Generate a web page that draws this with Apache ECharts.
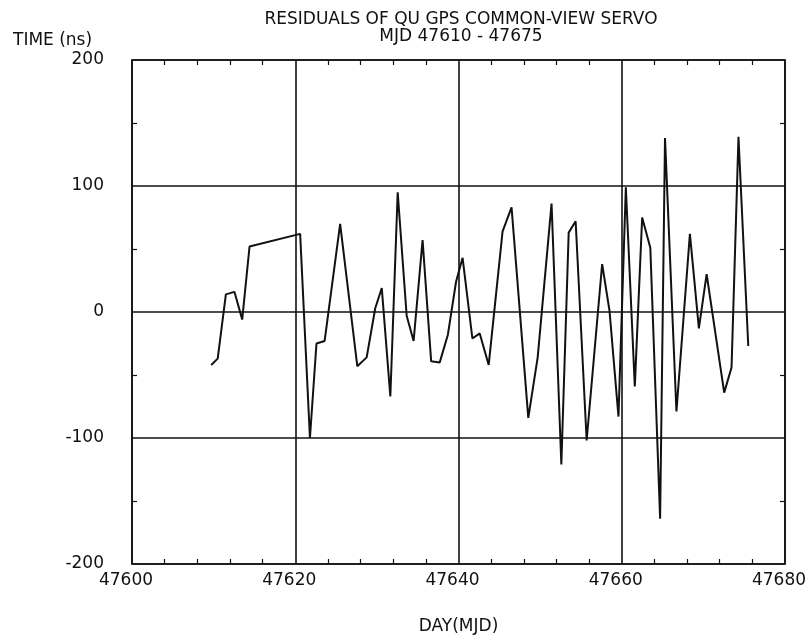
<!DOCTYPE html>
<html>
<head>
<meta charset="utf-8">
<script src="https://cdn.jsdelivr.net/npm/echarts@6/dist/echarts.min.js"></script>
<style>
  html, body { margin: 0; padding: 0; background: #fff; }
  #chart { width: 812px; height: 640px; }
</style>
</head>
<body>
<div id="chart"></div>
<script>
// MJD of each residual sample
const days = [
  47609.7, 47610.5, 47611.5, 47612.55, 47613.5, 47614.4, 47620.6, 47621.8,
  47622.6, 47623.6, 47625.5, 47627.6, 47628.75, 47629.8, 47630.6, 47631.65,
  47632.55, 47633.65, 47634.5, 47635.6, 47636.65, 47637.7, 47638.7, 47639.7,
  47640.5, 47641.7, 47642.6, 47643.7, 47645.4, 47646.5, 47648.55, 47649.7,
  47651.4, 47652.6, 47653.5, 47654.35, 47655.7, 47657.0, 47657.6, 47658.5,
  47659.6, 47660.5, 47661.6, 47662.5, 47663.5, 47664.7, 47665.3, 47666.7,
  47668.35, 47669.45, 47670.4, 47672.55, 47673.45, 47674.3, 47675.5
]
// residuals in ns
const residuals = [
  -42, -37, 14, 16, -6, 52, 62, -100,
  -25, -23, 70, -43, -36, 3, 19, -67,
  95, -3, -23, 57, -39, -40, -18, 24,
  43, -21, -17, -42, 64, 83, -84, -36,
  86, -121, 63, 72, -102, -6, 38, 1,
  -83, 99, -59, 75, 51, -164, 138, -79,
  62, -13, 30, -64, -44, 139, -27
]
const xTicks = { min: 47600, max: 47680, step: 20 }
const yTicks = { min: -200, max: 200, step: 100 }

const font = 'DejaVu Sans'
const ink = '#111'

const chart = echarts.init(document.getElementById('chart'))

// bare frame axes on top / right, only the small inward ticks
const frameAxis = {
  axisLine: { show: true, onZero: false, lineStyle: { color: ink, width: 1.6 } },
  axisTick: { show: false, inside: true },
  minorTick: { show: true, length: 5, lineStyle: { color: ink, width: 1.2 } },
  axisLabel: { show: false },
  splitLine: { show: false }
}

const option = {
  animation: false,
  backgroundColor: '#fff',
  title: [
    {
      text: 'RESIDUALS OF QU GPS COMMON-VIEW SERVO\nMJD 47610 - 47675',
      left: 456, top: 6, textAlign: 'center',
      textStyle: { fontFamily: font, fontSize: 17, fontWeight: 'normal', color: ink, lineHeight: 17 }
    },
    {
      text: 'TIME (ns)',
      left: 8, top: 27,
      textStyle: { fontFamily: font, fontSize: 17, fontWeight: 'normal', color: ink }
    }
  ],
  grid: { left: 132, right: 27, top: 60, bottom: 76 },
  xAxis: [
    {
      type: 'value',
      min: xTicks.min, max: xTicks.max, interval: xTicks.step,
      name: 'DAY(MJD)', nameLocation: 'middle', nameGap: 54,
      nameTextStyle: { fontFamily: font, fontSize: 17, color: ink },
      axisLine: { show: true, onZero: false, lineStyle: { color: ink, width: 1.6 } },
      axisTick: { show: false, inside: true },
      minorTick: { show: true, splitNumber: 5, length: 5, lineStyle: { color: ink, width: 1.2 } },
      axisLabel: {
        fontFamily: font, fontSize: 17, color: ink, margin: 8,
        padding: [0, 12, 0, 0], formatter: v => String(v)
      },
      splitLine: { show: true, lineStyle: { color: ink, width: 1.6 } }
    },
    Object.assign({}, frameAxis, {
      type: 'value', position: 'top',
      min: xTicks.min, max: xTicks.max, interval: xTicks.step,
      minorTick: Object.assign({}, frameAxis.minorTick, { splitNumber: 5 })
    })
  ],
  yAxis: [
    {
      type: 'value',
      min: yTicks.min, max: yTicks.max, interval: yTicks.step,
      axisLine: { show: true, onZero: false, lineStyle: { color: ink, width: 1.6 } },
      axisTick: { show: false, inside: true },
      minorTick: { show: true, splitNumber: 2, length: 5, lineStyle: { color: ink, width: 1.2 } },
      axisLabel: { fontFamily: font, fontSize: 17, color: ink, margin: 28 },
      splitLine: { show: true, lineStyle: { color: ink, width: 1.6 } }
    },
    Object.assign({}, frameAxis, {
      type: 'value', position: 'right',
      min: yTicks.min, max: yTicks.max, interval: yTicks.step,
      minorTick: Object.assign({}, frameAxis.minorTick, { splitNumber: 2 })
    })
  ],
  series: [
    {
      type: 'line',
      data: days.map((d, i) => [d, residuals[i]]),
      showSymbol: false,
      lineStyle: { color: ink, width: 2 },
      z: 5
    }
  ]
}

chart.setOption(option)
</script>
</body>
</html>
